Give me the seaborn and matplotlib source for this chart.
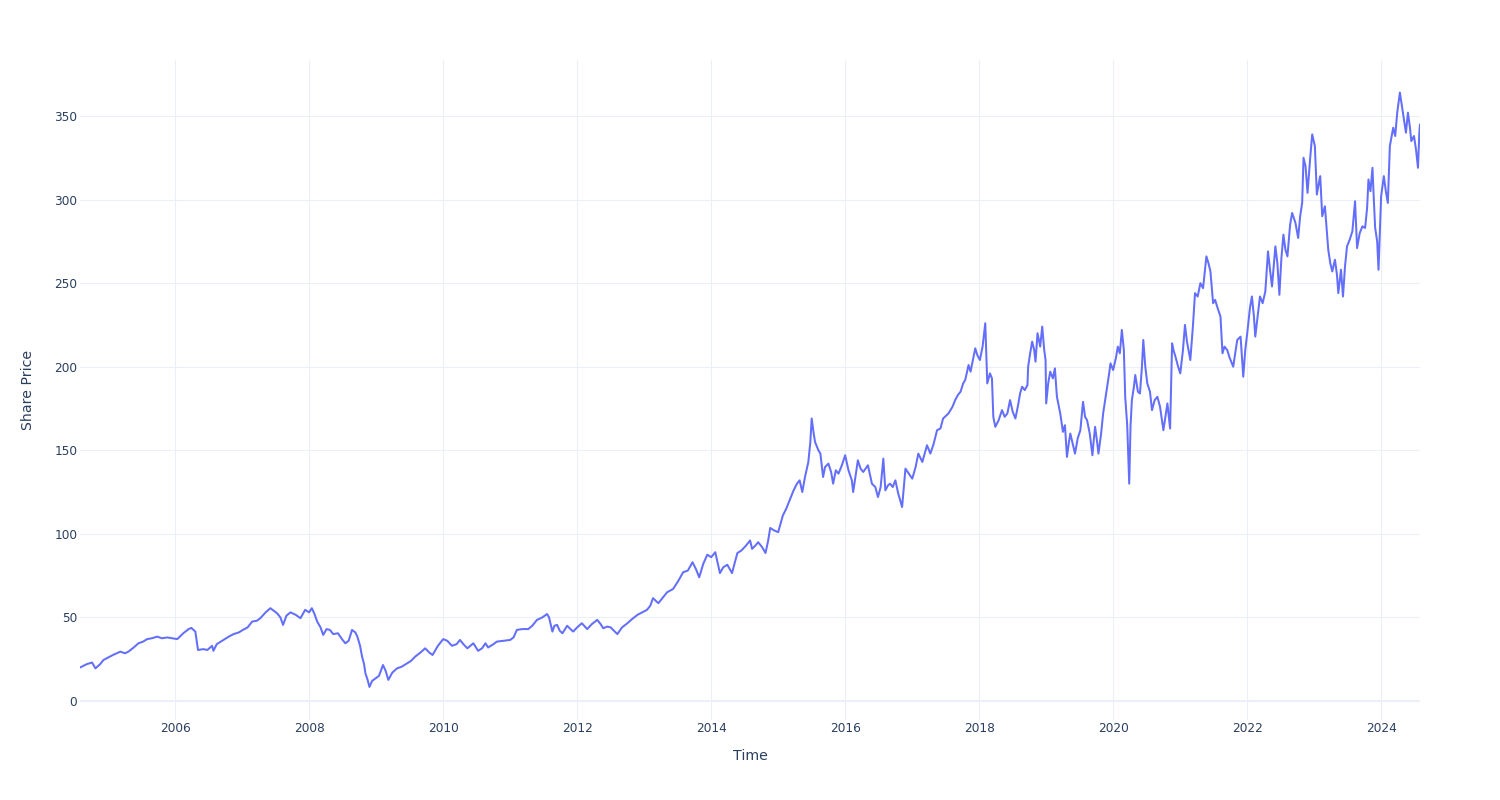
import matplotlib
matplotlib.use("Agg")
import matplotlib.pyplot as plt
import matplotlib.dates as mdates
import seaborn as sns
import pandas as pd

# Decimal-year positions and share prices
time_years = [
    2004.58, 2004.68, 2004.76, 2004.81, 2004.88, 2004.93, 2005.00, 2005.07, 2005.18, 2005.25,
    2005.30, 2005.38, 2005.45, 2005.52, 2005.58, 2005.65, 2005.73, 2005.80, 2005.88, 2005.95,
    2006.03, 2006.12, 2006.20, 2006.24, 2006.30, 2006.34, 2006.42, 2006.48, 2006.55, 2006.57,
    2006.62, 2006.72, 2006.80, 2006.87, 2006.95, 2007.01, 2007.08, 2007.15, 2007.22, 2007.27,
    2007.35, 2007.42, 2007.47, 2007.52, 2007.57, 2007.61, 2007.66, 2007.72, 2007.80, 2007.87,
    2007.94, 2008.00, 2008.04, 2008.08, 2008.12, 2008.17, 2008.21, 2008.26, 2008.31, 2008.36,
    2008.43, 2008.49, 2008.54, 2008.59, 2008.64, 2008.69, 2008.72, 2008.76, 2008.79, 2008.82,
    2008.84, 2008.87, 2008.90, 2008.94, 2008.99, 2009.04, 2009.10, 2009.14, 2009.18, 2009.24,
    2009.31, 2009.38, 2009.46, 2009.52, 2009.58, 2009.66, 2009.73, 2009.79, 2009.84, 2009.92,
    2010.00, 2010.06, 2010.13, 2010.20, 2010.25, 2010.30, 2010.36, 2010.45, 2010.52, 2010.58,
    2010.63, 2010.67, 2010.75, 2010.80, 2010.90, 2011.00, 2011.05, 2011.10, 2011.18, 2011.27,
    2011.33, 2011.40, 2011.48, 2011.55, 2011.58, 2011.63, 2011.66, 2011.70, 2011.74, 2011.78,
    2011.85, 2011.90, 2011.94, 2012.00, 2012.07, 2012.15, 2012.22, 2012.30, 2012.35, 2012.39,
    2012.45, 2012.50, 2012.55, 2012.60, 2012.67, 2012.75, 2012.82, 2012.90, 2012.97, 2013.04,
    2013.09, 2013.13, 2013.21, 2013.28, 2013.34, 2013.43, 2013.51, 2013.58, 2013.65, 2013.72,
    2013.77, 2013.82, 2013.88, 2013.94, 2014.00, 2014.06, 2014.13, 2014.18, 2014.24, 2014.31,
    2014.39, 2014.45, 2014.52, 2014.58, 2014.61, 2014.66, 2014.70, 2014.76, 2014.81, 2014.85,
    2014.88, 2014.94, 2015.00, 2015.07, 2015.12, 2015.18, 2015.23, 2015.28, 2015.32, 2015.36,
    2015.40, 2015.45, 2015.48, 2015.50, 2015.53, 2015.55, 2015.60, 2015.63, 2015.67, 2015.70,
    2015.75, 2015.79, 2015.82, 2015.86, 2015.90, 2015.95, 2016.00, 2016.05, 2016.10, 2016.12,
    2016.16, 2016.19, 2016.23, 2016.27, 2016.34, 2016.40, 2016.45, 2016.49, 2016.53, 2016.57,
    2016.60, 2016.64, 2016.67, 2016.71, 2016.75, 2016.79, 2016.85, 2016.90, 2016.95, 2017.00,
    2017.05, 2017.09, 2017.15, 2017.22, 2017.27, 2017.32, 2017.37, 2017.42, 2017.46, 2017.54,
    2017.60, 2017.64, 2017.68, 2017.72, 2017.76, 2017.79, 2017.84, 2017.87, 2017.90, 2017.94,
    2017.97, 2018.01, 2018.05, 2018.09, 2018.12, 2018.16, 2018.19, 2018.21, 2018.24, 2018.29,
    2018.34, 2018.38, 2018.42, 2018.46, 2018.50, 2018.54, 2018.58, 2018.61, 2018.64, 2018.68,
    2018.72, 2018.73, 2018.76, 2018.79, 2018.82, 2018.84, 2018.87, 2018.91, 2018.94, 2018.97,
    2018.99, 2019.00, 2019.03, 2019.06, 2019.10, 2019.13, 2019.16, 2019.21, 2019.25, 2019.28,
    2019.31, 2019.34, 2019.36, 2019.40, 2019.43, 2019.47, 2019.51, 2019.55, 2019.58, 2019.61,
    2019.65, 2019.69, 2019.71, 2019.73, 2019.76, 2019.78, 2019.82, 2019.85, 2019.88, 2019.91,
    2019.94, 2019.96, 2020.00, 2020.04, 2020.07, 2020.10, 2020.13, 2020.16, 2020.18, 2020.21,
    2020.24, 2020.26, 2020.28, 2020.31, 2020.33, 2020.37, 2020.40, 2020.43, 2020.45, 2020.48,
    2020.51, 2020.55, 2020.58, 2020.62, 2020.66, 2020.70, 2020.75, 2020.78, 2020.81, 2020.85,
    2020.88, 2020.90, 2020.93, 2020.97, 2021.00, 2021.04, 2021.07, 2021.10, 2021.15, 2021.19,
    2021.22, 2021.26, 2021.30, 2021.34, 2021.39, 2021.42, 2021.45, 2021.49, 2021.52, 2021.55,
    2021.60, 2021.63, 2021.66, 2021.70, 2021.74, 2021.79, 2021.82, 2021.85, 2021.90, 2021.94,
    2021.97, 2022.00, 2022.04, 2022.07, 2022.10, 2022.12, 2022.16, 2022.19, 2022.23, 2022.27,
    2022.31, 2022.34, 2022.37, 2022.42, 2022.45, 2022.48, 2022.51, 2022.54, 2022.57, 2022.60,
    2022.64, 2022.67, 2022.72, 2022.76, 2022.79, 2022.82, 2022.84, 2022.87, 2022.90, 2022.94,
    2022.97, 2023.01, 2023.04, 2023.07, 2023.09, 2023.12, 2023.16, 2023.21, 2023.24, 2023.27,
    2023.31, 2023.34, 2023.36, 2023.40, 2023.43, 2023.46, 2023.49, 2023.53, 2023.57, 2023.61,
    2023.64, 2023.68, 2023.72, 2023.76, 2023.79, 2023.81, 2023.84, 2023.87, 2023.89, 2023.91,
    2023.94, 2023.96, 2024.00, 2024.04, 2024.07, 2024.10, 2024.13, 2024.18, 2024.21, 2024.24,
    2024.28, 2024.31, 2024.34, 2024.37, 2024.40, 2024.43, 2024.45, 2024.49, 2024.52, 2024.55,
    2024.57, 2024.58,
]

share_price = [
    20, 22, 23, 19.5, 22, 24.5, 26, 27.5, 29.5, 28.5,
    29.5, 32, 34.5, 35.5, 37, 37.5, 38.5, 37.5, 38, 37.5,
    37, 40.5, 43, 43.7, 41.5, 30.5, 31, 30.5, 33, 30,
    34, 36.5, 38.5, 40, 41, 42.5, 44, 47.5, 48, 49.5,
    53, 55.5, 54, 52.5, 50, 45.5, 51, 53, 51.5, 49.5,
    54.5, 53, 55.5, 52, 47.5, 44, 39.5, 43, 42.5, 40,
    40.5, 37, 34.5, 36, 42.5, 41, 38.5, 33, 26.5, 22,
    16.5, 13, 8.4, 12, 13.5, 15, 21.5, 18, 12.6, 17,
    19.5, 20.5, 22.5, 24, 26.5, 29, 31.5, 29, 27.5, 33,
    37, 36, 33, 34, 36.5, 34, 31.5, 34.5, 30, 31.5,
    34.5, 32, 34, 35.5, 36, 36.5, 38, 42.5, 43, 43,
    45, 48.5, 50, 52, 50, 41.5, 45, 45.5, 42, 40.5,
    45, 43, 41.5, 44, 46.5, 43, 46, 48.5, 46, 43.5,
    44.5, 44, 42, 40, 44, 46.5, 49, 51.5, 53, 54.5,
    57, 61.5, 58.5, 62, 65, 67, 72, 77, 78, 83,
    79, 74, 82, 87.5, 86, 89, 76.5, 80, 81.5, 76.5,
    88.5, 90, 93, 96, 91, 93, 95, 92, 88.5, 96,
    103.5, 102, 101, 111, 115, 121, 126, 130, 132, 125,
    134, 143, 155, 169, 160, 155, 150, 148, 134, 140,
    142, 137, 130, 138, 136, 141, 147, 138, 132, 125,
    136, 144, 139, 137, 141, 130, 128, 122, 128, 145,
    126, 129, 130, 128, 132, 124.5, 116, 139, 136, 133,
    140, 148, 143, 153, 148, 154, 162, 163, 169, 172,
    176, 180, 183, 185, 190, 192, 201, 197, 203, 211,
    207, 204, 212, 226, 190, 196, 193, 170, 164, 168,
    174, 170, 172, 180, 173, 169, 177, 184, 188, 186,
    189, 200, 208, 215, 210, 203, 220, 212, 224, 210,
    204, 178, 190, 197, 193, 199, 182, 172, 161, 165,
    146, 155, 160, 153, 148, 157, 162, 179, 170, 168,
    160, 147, 156, 164, 155, 148, 160, 172, 180, 188,
    196, 202, 198, 205, 212, 208, 222, 210, 182, 165,
    130, 165, 180, 188, 195, 185, 184, 200, 216, 200,
    190, 185, 174, 180, 182, 176, 162, 170, 178, 163,
    214, 210, 206, 200, 196, 210, 225, 215, 204, 225,
    244, 242, 250, 247, 266, 262, 257, 238, 240, 236,
    230, 208, 212, 210, 205, 200, 208, 216, 218, 194,
    210, 220, 235, 242, 230, 218, 232, 242, 238, 245,
    269, 258, 248, 272, 262, 243, 265, 279, 270, 266,
    285, 292, 286, 277, 290, 298, 325, 320, 304, 325,
    339, 332, 303, 310, 314, 290, 296, 270, 262, 257,
    264, 255, 244, 258, 242, 260, 272, 276, 281, 299,
    271, 280, 284, 283, 295, 312, 305, 319, 300, 283,
    275, 258, 302, 314, 305, 298, 332, 343, 338, 352,
    364, 356, 348, 340, 352, 343, 335, 338, 330, 319,
    340, 345,
]

y_ticks = [0, 50, 100, 150, 200, 250, 300, 350]
x_tick_years = [2006, 2008, 2010, 2012, 2014, 2016, 2018, 2020, 2022, 2024]

dates = [pd.Timestamp(int(t), 1, 1) + pd.Timedelta(days=(t % 1) * 365.25) for t in time_years]
df = pd.DataFrame({"Time": dates, "Share Price": share_price})

sns.set_theme(style="white")
plt.rcParams["font.family"] = ["DejaVu Sans"]

text_color = "#2a3f5f"
grid_color = "#EBF0F8"

fig = plt.figure(figsize=(15, 8), dpi=100)
ax = fig.add_axes([80 / 1500, 80 / 800, 1340 / 1500, 660 / 800])

sns.lineplot(data=df, x="Time", y="Share Price", ax=ax, color="#636EFA", linewidth=1.45, zorder=3)

ax.set_xlim(df["Time"].min(), df["Time"].max())
ax.set_ylim(-11.4, 383.5)
ax.set_yticks(y_ticks)
ax.set_xticks([pd.Timestamp(y, 1, 1) for y in x_tick_years])
ax.xaxis.set_major_formatter(mdates.DateFormatter("%Y"))

ax.grid(True, color=grid_color, linewidth=0.75, zorder=0)
ax.axhline(0, color=grid_color, linewidth=1.5, zorder=1)
for s in ax.spines.values():
    s.set_visible(False)

ax.tick_params(axis="both", length=0, labelsize=8.7, colors=text_color)
ax.tick_params(axis="y", pad=2)
ax.tick_params(axis="x", pad=1.5)
ax.set_xlabel("Time", fontsize=10.2, color=text_color, labelpad=10)
ax.set_ylabel("Share Price", fontsize=10.2, color=text_color, labelpad=14)

fig.savefig("out.png", dpi=100, facecolor="white")
